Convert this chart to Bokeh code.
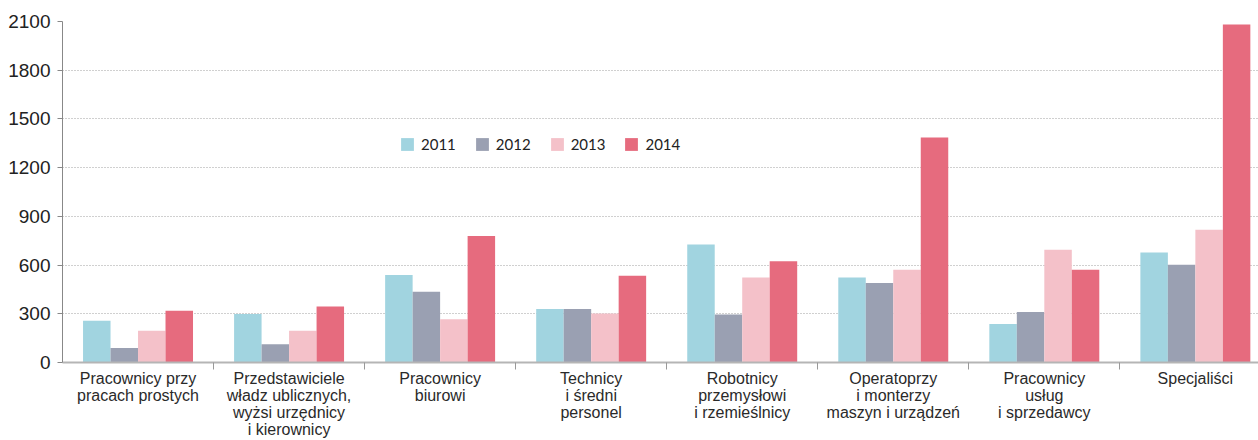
import numpy as np
from bokeh.plotting import figure
from bokeh.models import Range1d, FixedTicker, Legend, LegendItem
from bokeh.embed import file_html
from bokeh.resources import INLINE

categories = [
    "Pracownicy przy\npracach prostych",
    "Przedstawiciele\nwładz ublicznych,\nwyżsi urzędnicy\ni kierownicy",
    "Pracownicy\nbiurowi",
    "Technicy\ni średni\npersonel",
    "Robotnicy\nprzemysłowi\ni rzemieślnicy",
    "Operatoprzy\ni monterzy\nmaszyn i urządzeń",
    "Pracownicy\nusług\ni sprzedawcy",
    "Specjaliści",
]
years = ["2011", "2012", "2013", "2014"]
v2011 = [257, 298, 539, 329, 726, 524, 237, 678]
v2012 = [89, 113, 436, 329, 296, 489, 311, 602]
v2013 = [195, 195, 267, 302, 524, 571, 695, 818]
v2014 = [319, 345, 779, 534, 623, 1385, 571, 2082]
series = [v2011, v2012, v2013, v2014]
colors = ["#a1d4e0", "#9aa0b2", "#f4c1c9", "#e66b7e"]
y_ticks = list(range(0, 2101, 300))

n = len(categories)
centers = np.arange(n) + 0.5
separators = list(np.arange(1, n + 1))
bw = 0.182

p = figure(width=1258, height=440, output_backend="svg", toolbar_location=None,
           x_range=Range1d(0, 7.918), y_range=Range1d(0, 2100),
           min_border_left=62, min_border_right=0, min_border_top=21, min_border_bottom=60)
p.outline_line_color = None
p.background_fill_color = "white"

renderers = []
for i, (vals, col) in enumerate(zip(series, colors)):
    off = (i - 1.5) * bw
    r = p.vbar(x=centers + off, top=vals, width=bw, bottom=0, fill_color=col, line_color=None)
    renderers.append(r)

# x axis
xa = p.xaxis[0]
xa.ticker = FixedTicker(ticks=list(centers), minor_ticks=separators)
xa.major_label_overrides = {float(c): lab for c, lab in zip(centers, categories)}
xa.major_tick_line_color = None
xa.major_tick_out = 0
xa.major_tick_in = 0
xa.minor_tick_out = 7
xa.minor_tick_in = 0
xa.minor_tick_line_color = "#999999"
xa.axis_line_color = "#b5b5b5"
xa.axis_line_width = 2
xa.major_label_standoff = 0
xa.major_label_text_font = "Liberation Sans"
xa.major_label_text_font_size = "16px"
xa.major_label_text_color = "#2a2a2a"
xa.major_label_text_line_height = 1.0

# y axis
ya = p.yaxis[0]
ya.ticker = FixedTicker(ticks=y_ticks)
ya.minor_tick_line_color = None
ya.major_tick_out = 5
ya.major_tick_in = 0
ya.major_tick_line_color = "#888888"
ya.axis_line_color = "#888888"
ya.major_label_standoff = 7
ya.major_label_text_font = "Liberation Sans"
ya.major_label_text_font_size = "19px"
ya.major_label_text_color = "#222222"

p.xgrid.grid_line_color = None
p.ygrid.grid_line_color = "#a0a0a0"
p.ygrid.grid_line_dash = "1 2"
p.ygrid.grid_line_width = 1

legend = Legend(items=[LegendItem(label=y, renderers=[r]) for y, r in zip(years, renderers)],
                orientation="horizontal", location=(337, 209), padding=0, margin=0,
                spacing=18, glyph_width=16, glyph_height=16, label_standoff=6,
                label_height=16, border_line_color=None, background_fill_alpha=0,
                label_text_font="Lato", label_text_font_size="15px",
                label_text_color="#222222")
p.add_layout(legend)

open("out.html", "w").write(file_html(p, INLINE))
